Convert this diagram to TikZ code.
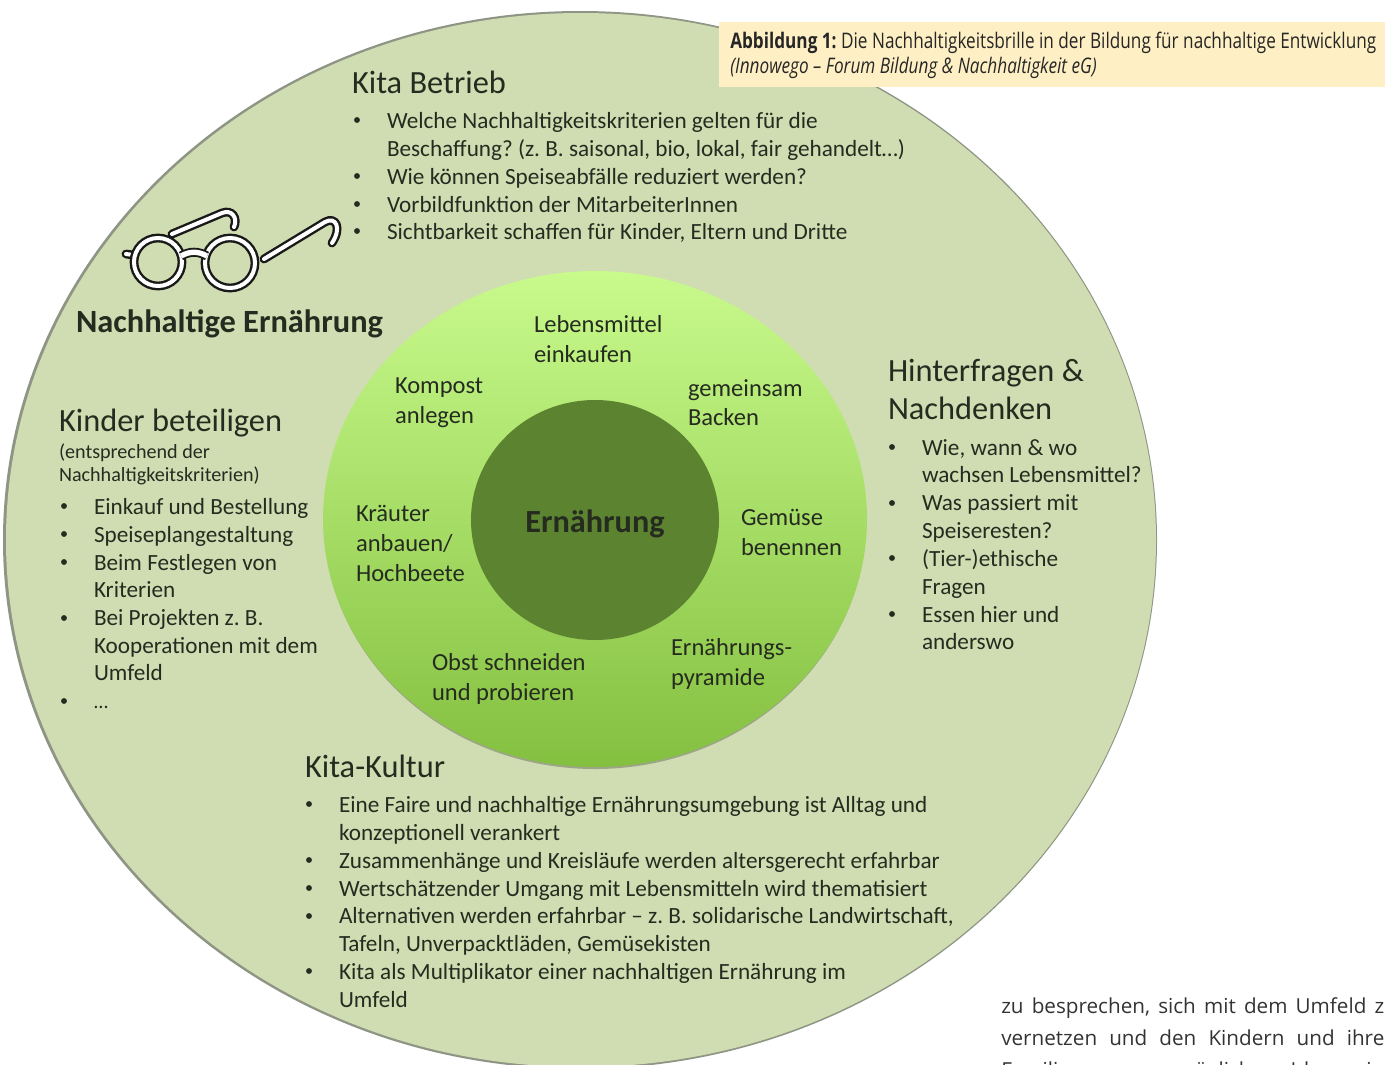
\documentclass[tikz,border=0pt]{standalone}
\usepackage{fontspec}
\setmainfont{Carlito}
\frenchspacing
\newfontfamily\capfont[FakeStretch=0.80]{Open Sans}
\newfontfamily\pagefont{Open Sans}
\definecolor{outergreen}{HTML}{D0DCB2}
\definecolor{outeredge}{HTML}{8E9585}
\definecolor{ringtop}{HTML}{C8FA8C}
\definecolor{ringmid}{HTML}{ACE66C}
\definecolor{ringbot}{HTML}{84C040}
\definecolor{coregreen}{HTML}{5C8430}
\definecolor{capyellow}{HTML}{FEF0C4}
\definecolor{inktext}{HTML}{262B20}
\tikzset{
  txt/.style={anchor=base west, inner sep=0pt, outer sep=0pt, text=inktext, font=\fontsize{17.4}{20}\selectfont},
  ringtxt/.style={txt, font=\fontsize{18.4}{20}\selectfont},
  smalltxt/.style={txt, font=\fontsize{15.1}{18}\selectfont},
  headtxt/.style={txt, font=\fontsize{24.3}{26}\selectfont},
  dot/.style={circle, fill=inktext, inner sep=0pt, minimum size=4.4pt},
  captxt/.style={anchor=base west, inner sep=0pt, text=black!85, font=\fontsize{16.1}{18}\capfont},
  pagetxt/.style={anchor=base west, inner sep=0pt, text=black!80, font=\fontsize{15.5}{18}\pagefont},
  brille/.style={draw=black!90, line width=1.8pt, double=white, double distance=3pt}
}
\begin{document}
\begin{tikzpicture}[x=0.75pt,y=-0.75pt]
\useasboundingbox (0,0) rectangle (1385,1064);
\clip (0,0) rectangle (1385,1064);
% circles
\fill[outeredge] (580,540) ellipse [x radius=577, y radius=529];
\fill[outergreen] (581,540) ellipse [x radius=575, y radius=527];
\fill[black!25!outergreen] (595,521) ellipse [x radius=271, y radius=248];
\shade[top color=ringtop, middle color=ringmid, bottom color=ringbot] (595,519) ellipse [x radius=272, y radius=248];
\fill[coregreen] (595,520) ellipse [x radius=124, y radius=120];
% caption
\fill[capyellow] (719,22) rectangle (1385,87);
\node[captxt] (cap1) at (730,48) {\textbf{Abbildung 1:} Die Nachhaltigkeitsbrille in der Bildung für nachhaltige Entwicklung};
\node[captxt] (cap2) at (730,73) {\textit{(Innowego – Forum Bildung \& Nachhaltigkeit eG)}};
% glasses
\draw[brille, line cap=round] (172,234) -- (222,213) .. controls (232,209) and (238,218) .. (234,227);
\draw[brille, line cap=round] (264,259) -- (325,222) .. controls (336,216) and (342,228) .. (332,243);
\draw[brille, line cap=round] (126,254) -- (133,255);
\draw[brille] (158,262) circle [radius=24];
\draw[brille] (230,263) circle [radius=25];
\draw[brille, double distance=4pt, line width=1.4pt] (181,256) .. controls (190,251) and (198,251) .. (207,256);
\node[txt, font=\fontsize{24.3}{26}\bfseries] (titel) at (76,332) {Nachhaltige Ernährung};
% Kita Betrieb
\node[headtxt] (betrieb) at (352,93) {Kita Betrieb};
\foreach \y in {120,176,204,231} \node[dot] (bd\y) at (357,\y) {};
\node[txt] (b1) at (387,128) {Welche Nachhaltigkeitskriterien gelten für die};
\node[txt] (b2) at (387,156) {Beschaffung? (z. B. saisonal, bio, lokal, fair gehandelt…)};
\node[txt] (b3) at (387,184) {Wie können Speiseabfälle reduziert werden?};
\node[txt] (b4) at (387,212) {Vorbildfunktion der MitarbeiterInnen};
\node[txt] (b5) at (387,239) {Sichtbarkeit schaffen für Kinder, Eltern und Dritte};
% Kinder beteiligen
\node[headtxt] (kinder) at (59,431) {Kinder beteiligen};
\node[smalltxt] (ks1) at (59,458) {(entsprechend der};
\node[smalltxt] (ks2) at (59,481) {Nachhaltigkeitskriterien)};
\foreach \y in {506,534,562,618,701} \node[dot] (kd\y) at (64,\y) {};
\node[txt] (k1) at (94,514) {Einkauf und Bestellung};
\node[txt] (k2) at (94,542) {Speiseplangestaltung};
\node[txt] (k3) at (94,570) {Beim Festlegen von};
\node[txt] (k4) at (94,597) {Kriterien};
\node[txt] (k5) at (94,625) {Bei Projekten z. B.};
\node[txt] (k6) at (94,653) {Kooperationen mit dem};
\node[txt] (k7) at (94,680) {Umfeld};
\node[smalltxt] (k8) at (94,708) {…};
% Hinterfragen
\node[headtxt] (hinter1) at (888,381) {Hinterfragen \&};
\node[headtxt] (hinter2) at (888,419) {Nachdenken};
\foreach \y in {447,503,558,614} \node[dot] (hd\y) at (892,\y) {};
\node[txt] (h1) at (922,455) {Wie, wann \& wo};
\node[txt] (h2) at (922,482) {wachsen Lebensmittel?};
\node[txt] (h3) at (922,510) {Was passiert mit};
\node[txt] (h4) at (922,538) {Speiseresten?};
\node[txt] (h5) at (922,566) {(Tier-)ethische};
\node[txt] (h6) at (922,594) {Fragen};
\node[txt] (h7) at (922,622) {Essen hier und};
\node[txt] (h8) at (922,649) {anderswo};
% ring
\node[ringtxt] (r1) at (534,332) {Lebensmittel};
\node[ringtxt] (r2) at (534,362) {einkaufen};
\node[ringtxt] (r3) at (395,393) {Kompost};
\node[ringtxt] (r4) at (395,423) {anlegen};
\node[ringtxt] (r5) at (688,396) {gemeinsam};
\node[ringtxt] (r6) at (688,425) {Backen};
\node[ringtxt] (r7) at (356,521) {Kräuter};
\node[ringtxt] (r8) at (356,551) {anbauen/};
\node[ringtxt] (r9) at (356,581) {Hochbeete};
\node[ringtxt] (r10) at (741,525) {Gemüse};
\node[ringtxt] (r11) at (741,555) {benennen};
\node[ringtxt] (r12) at (432,670) {Obst schneiden};
\node[ringtxt] (r13) at (432,700) {und probieren};
\node[ringtxt] (r14) at (671,655) {Ernährungs-};
\node[ringtxt] (r15) at (671,685) {pyramide};
\node[txt, anchor=base, font=\fontsize{24.2}{26}\bfseries] (kern) at (595,532) {Ernährung};
% Kita-Kultur
\node[headtxt] (kultur) at (305,777) {Kita-Kultur};
\foreach \y in {804,860,888,916,971} \node[dot] (ud\y) at (309,\y) {};
\node[txt] (u1) at (339,812) {Eine Faire und nachhaltige Ernährungsumgebung ist Alltag und};
\node[txt] (u2) at (339,840) {konzeptionell verankert};
\node[txt] (u3) at (339,868) {Zusammenhänge und Kreisläufe werden altersgerecht erfahrbar};
\node[txt] (u4) at (339,896) {Wertschätzender Umgang mit Lebensmitteln wird thematisiert};
\node[txt] (u5) at (339,923) {Alternativen werden erfahrbar – z. B. solidarische Landwirtschaft,};
\node[txt] (u6) at (339,951) {Tafeln, Unverpacktläden, Gemüsekisten};
\node[txt] (u7) at (339,979) {Kita als Multiplikator einer nachhaltigen Ernährung im};
\node[txt] (u8) at (339,1007) {Umfeld};
% running text
\node[pagetxt] (p1) at (1001,1013) {\makebox[287.25pt][s]{zu besprechen, sich mit dem Umfeld z}};
\node[pagetxt] (p2) at (1001,1045) {\makebox[287.25pt][s]{vernetzen und den Kindern und ihre}};
\node[pagetxt] (p3) at (1001,1077) {\makebox[287.25pt][s]{Familien es zu ermöglichen, Ideen ein}};
\end{tikzpicture}
\end{document}
